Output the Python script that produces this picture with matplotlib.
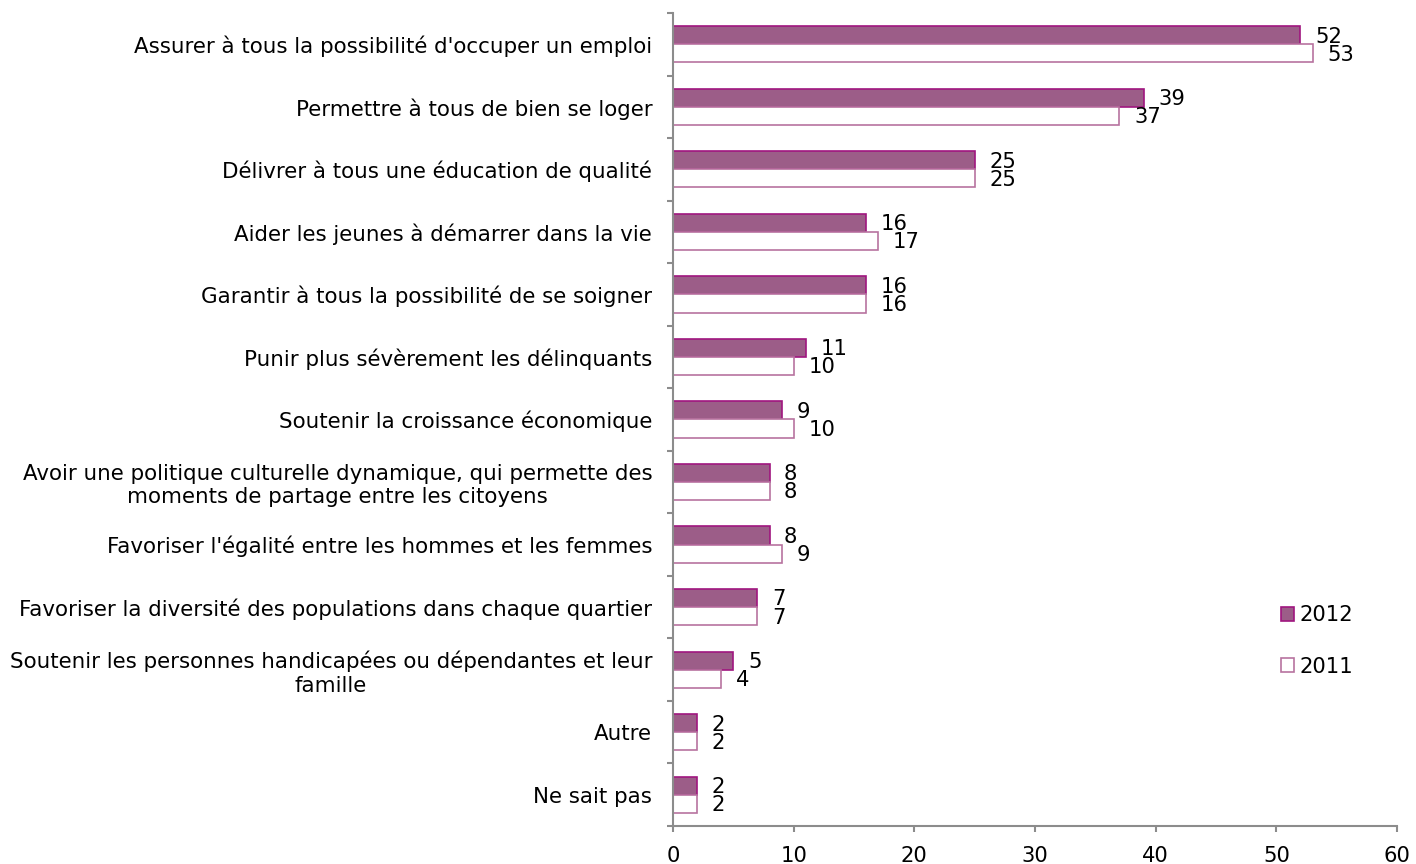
import matplotlib
matplotlib.use("Agg")
import matplotlib.pyplot as plt
import numpy as np
from matplotlib.patches import Patch

categories = [
    "Assurer à tous la possibilité d'occuper un emploi",
    "Permettre à tous de bien se loger",
    "Délivrer à tous une éducation de qualité",
    "Aider les jeunes à démarrer dans la vie",
    "Garantir à tous la possibilité de se soigner",
    "Punir plus sévèrement les délinquants",
    "Soutenir la croissance économique",
    "Avoir une politique culturelle dynamique, qui permette des\nmoments de partage entre les citoyens",
    "Favoriser l'égalité entre les hommes et les femmes",
    "Favoriser la diversité des populations dans chaque quartier",
    "Soutenir les personnes handicapées ou dépendantes et leur\nfamille",
    "Autre",
    "Ne sait pas",
]
values_2012 = [52, 39, 25, 16, 16, 11, 9, 8, 8, 7, 5, 2, 2]
values_2011 = [53, 37, 25, 17, 16, 10, 10, 8, 9, 7, 4, 2, 2]
xticks = [0, 10, 20, 30, 40, 50, 60]

fill12 = "#9C5D88"
edge12 = "#A0157F"
edge11 = "#B7739F"
axis_col = "#8C8C8C"
fs = 15.2
fs_cat = 15.4

fig = plt.figure(figsize=(14.16, 8.64), dpi=100)
ax = fig.add_axes([673/1416, 1-826/864, (1397-673)/1416, (826-13)/864])

n = len(categories)
y = np.arange(n)
h = 0.29
ax.barh(y - h/2, values_2012, height=h, color=fill12, edgecolor=edge12, linewidth=1.2, label="2012")
ax.barh(y + h/2, values_2011, height=h, color="white", edgecolor=edge11, linewidth=1.2, label="2011")

for i in range(n):
    ax.annotate(str(values_2012[i]), (values_2012[i], y[i] - h/2), xytext=(10.5, -1.0),
                textcoords="offset points", ha="left", va="center", fontsize=fs, color="black")
    ax.annotate(str(values_2011[i]), (values_2011[i], y[i] + h/2), xytext=(10.5, -1.0),
                textcoords="offset points", ha="left", va="center", fontsize=fs, color="black")

ax.set_ylim(n - 0.5, -0.5)
ax.set_xlim(0, 60)
ax.set_xticks(xticks)
ax.set_xticklabels([str(t) for t in xticks], fontsize=fs)
ax.set_yticks(np.arange(-0.5, n, 1.0))
ax.set_yticklabels([])
ax.set_yticks(y, minor=True)
ax.set_yticklabels(categories, minor=True, fontsize=fs_cat, ha="right", multialignment="center")
ax.tick_params(axis="y", which="minor", length=0, pad=15)
ax.tick_params(axis="y", which="major", length=4.5, width=1.5, color=axis_col)
ax.tick_params(axis="x", length=4.5, width=1.5, color=axis_col, pad=10)

for s in ["top", "right"]:
    ax.spines[s].set_visible(False)
for s in ["left", "bottom"]:
    ax.spines[s].set_color(axis_col)
    ax.spines[s].set_linewidth(1.5)

handles = [Patch(facecolor=fill12, edgecolor=edge12, linewidth=1.2),
           Patch(facecolor="white", edgecolor=edge11, linewidth=1.2)]
ax.legend(handles, ["2012", "2011"], loc="center left", bbox_to_anchor=(1281/1416, 1-641/864),
          bbox_transform=fig.transFigure,
          frameon=False, fontsize=fs, handlelength=0.62, handleheight=0.62, handletextpad=0.24,
          labelspacing=1.48, borderpad=0, borderaxespad=0)

fig.savefig("out.png", dpi=100)
